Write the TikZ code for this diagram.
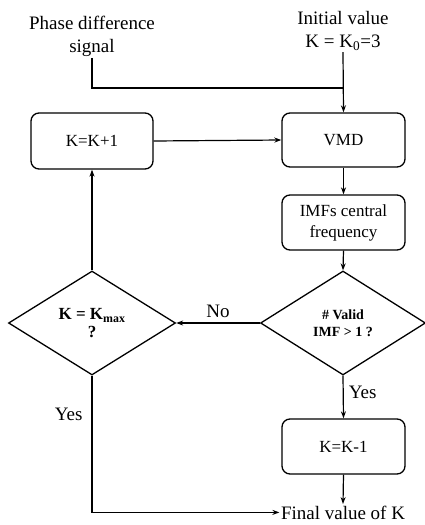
\documentclass[tikz,border=0pt]{standalone}
\usepackage{fontspec}
\setmainfont{Liberation Serif}
\usetikzlibrary{shapes.geometric,arrows.meta}
\begin{document}
\begin{tikzpicture}[x=1pt,y=-1pt,
  every path/.style={line width=1.2pt},
  box/.style={draw, rounded corners=8pt, line width=1.3pt, minimum width=123pt, minimum height=55pt, inner sep=0pt, align=center, font=\fontsize{17}{21}\selectfont},
  dec/.style={draw, diamond, line width=1.3pt, inner sep=0pt, minimum width=165pt, minimum height=104pt, align=center, font=\fontsize{14}{17}\selectfont\bfseries},
  lbl/.style={inner sep=1pt, align=center, font=\fontsize{19}{23}\selectfont},
  arr/.style={-{Stealth[length=7pt,width=5pt]}, line width=1.2pt}]
\useasboundingbox (0,0) rectangle (425,525);
\node[lbl] (phase) at (92,36) {Phase difference\\signal};
\node[lbl] (init) at (343,31) {Initial value\\K = K\textsubscript{0}=3};
\node[box, minimum width=122pt, minimum height=56pt] (kp1) at (92,141) {K=K+1};
\node[box, minimum height=54pt] (vmd) at (343.5,140) {VMD};
\node[box] (imf) at (343.5,222.5) {IMFs central\\frequency};
\node[dec] (valid) at (343,323) {\# Valid\\IMF > 1 ?};
\node[dec, minimum width=167pt, font=\fontsize{17}{18}\selectfont\bfseries] (kmax) at (92,323) {K = K\textsubscript{max}\\?};
\node[box] (km1) at (343.5,446.5) {K=K-1};
\node[lbl, anchor=base] (final) at (343,519) {Final value of K};
\coordinate (j) at (343,88);
\draw (phase.south) -- (phase.south |- j) -- (j);
\draw[arr] (init.south) -- (vmd.north);
\draw[arr] (kp1.east) -- (vmd.west);
\draw[arr] (vmd.south) -- (imf.north);
\draw[arr] (imf.south) -- (valid.north);
\draw[arr] (valid.west) -- node[lbl, above, yshift=4pt] (no) {No} (kmax.east);
\draw[arr] (kmax.north) -- (kp1.south);
\draw[arr] (valid.south) -- node[lbl, right, pos=0.4, xshift=4pt] (yes1) {Yes} (km1.north);
\draw[arr] (km1.south) -- (final.north);
\draw[arr] (kmax.south) -- node[lbl, left, pos=0.28, xshift=-8pt] (yes2) {Yes} (kmax.south |- final.west) -- (final.west);
\end{tikzpicture}
\end{document}
